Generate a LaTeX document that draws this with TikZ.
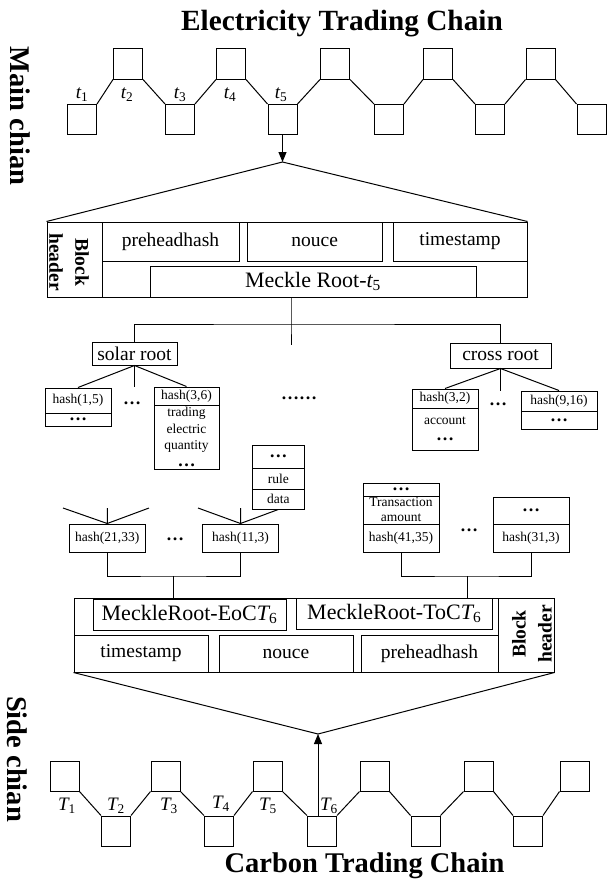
\documentclass[tikz,border=0pt]{standalone}
\usepackage{fontspec}
\setmainfont{Liberation Serif}
\usetikzlibrary{arrows.meta}
\newcommand\fs[2]{\fontsize{#1}{#2}\selectfont}
\begin{document}
\begin{tikzpicture}[x=1pt,y=-1pt,
  ln/.style={line width=1pt},
  box/.style={draw, line width=1pt, inner sep=0pt, align=center},
  cell/.style={box, font=\fs{13.5}{15}},
  big/.style={box, font=\fs{19.5}{22}},
  mr/.style={box, font=\fs{22}{24}},
  sq/.style={draw, line width=1pt, minimum width=29pt, minimum height=30pt, inner sep=0pt},
  lbl/.style={font=\fs{19}{20}\itshape, inner sep=0pt},
  dd/.style={font=\fs{18}{18}\bfseries, inner sep=0pt},
  ttl/.style={font=\fs{28.5}{30}\bfseries, inner sep=0pt},
  bh/.style={font=\fs{19.5}{26}\bfseries, inner sep=0pt, align=center},
  arr/.style={line width=1pt, -{Triangle[length=10pt,width=8pt]}}]
\useasboundingbox[fill=white] (0,0) rectangle (608,883);

% titles
\node[ttl, font=\fs{29.3}{30}\bfseries, anchor=base] (tt1) at (342,31) {Electricity Trading Chain};
\node[ttl, anchor=base] (tt2) at (364.5,872) {Carbon Trading Chain};
\node[ttl, rotate=-90] (mainl) at (20,116) {Main chian};
\node[ttl, rotate=-90] (sidel) at (17,759) {Side chian};

% main chain
\node[sq] (e1) at (82,119.5) {};
\node[sq] (e2) at (128,64) {};
\node[sq] (e3) at (180,119.5) {};
\node[sq] (e4) at (231,64) {};
\node[sq] (e5) at (282.5,119.5) {};
\node[sq] (e6) at (335,64) {};
\node[sq] (e7) at (389,119.5) {};
\node[sq] (e8) at (438,64) {};
\node[sq] (e9) at (490,119.5) {};
\node[sq] (e10) at (540.5,64) {};
\node[sq] (e11) at (591.5,119.5) {};
\draw[ln] (e1.north east) -- (e2.south west) (e2.south east) -- (e3.north west)
  (e3.north east) -- (e4.south west) (e4.south east) -- (e5.north west)
  (e5.north east) -- (e6.south west) (e6.south east) -- (e7.north west)
  (e7.north east) -- (e8.south west) (e8.south east) -- (e9.north west)
  (e9.north east) -- (e10.south west) (e10.south east) -- (e11.north west);
\node[lbl] (l1) at (82,95) {t\textsubscript{\upshape 1}};
\node[lbl] (l2) at (127,95) {t\textsubscript{\upshape 2}};
\node[lbl] (l3) at (180,95) {t\textsubscript{\upshape 3}};
\node[lbl] (l4) at (230,95) {t\textsubscript{\upshape 4}};
\node[lbl] (l5) at (281,95) {t\textsubscript{\upshape 5}};

\coordinate (apex1) at (282.5,162);
\draw[arr] (e5.south) -- (apex1);

% top block header
\node[box, minimum width=480pt, minimum height=75pt] (hdr1) at (287,259.5) {};
\draw[ln] (hdr1.north west) -- (apex1) -- (hdr1.north east);
\node[box, minimum width=55pt, minimum height=75pt] (bhb1) at (74.5,259.5) {};
\node[bh, rotate=-90] (bh1) at (69,262) {Block\\header};
\node[big, minimum width=137pt, minimum height=39pt] (ph1) at (170.5,241.5) {preheadhash};
\node[big, minimum width=134.5pt, minimum height=39pt] (no1) at (314.75,241.5) {nouce};
\node[big, minimum width=134pt, minimum height=39pt] (ts1) at (460,241.5) {timestamp};
\node[mr, minimum width=326pt, minimum height=31pt] (mr1) at (313,281.5) {Meckle Root-{\itshape t}\textsubscript{5}};

% tree
\coordinate (jn) at (291,324);
\node[big, minimum width=85pt, minimum height=23pt] (solar) at (134.5,353.5) {solar root};
\node[big, minimum width=101pt, minimum height=25pt] (cross) at (500.5,355.5) {cross root};
\draw[ln] (mr1.south -| jn) -- (jn) -- ++(0,21);
\draw[ln] (solar.north) |- (jn) -| (cross.north);

\node[cell, minimum width=66pt, minimum height=25pt] (h15a) at (78,400.5) {hash(1,5)};
\node[cell, minimum width=66pt, minimum height=13pt] (h15b) at (78,419.5) {\fs{18}{18}\bfseries …};
\node[cell, minimum width=65pt, minimum height=18pt] (h36a) at (186.5,396) {hash(3,6)};
\node[cell, minimum width=65pt, minimum height=64pt, font=\fs{13.5}{16.5}] (h36b) at (186.5,437) {trading\\electric\\quantity\\{\fs{18}{14}\bfseries …}};
\draw[ln] (h15a.north) -- (solar.south) -- (h36a.north);
\draw[ln] (solar.south) -- ++(0,21);
\node[dd] (d1) at (132,403) {…};
\node[dd] (d2) at (299,398) {……};

\node[cell, minimum width=66pt, minimum height=19pt] (h32a) at (445,398.5) {hash(3,2)};
\node[cell, minimum width=66pt, minimum height=42pt, font=\fs{13.5}{16}] (h32b) at (445,429) {account\\{\fs{18}{12}\bfseries …}};
\node[cell, minimum width=76pt, minimum height=20pt] (h916a) at (559,401) {hash(9,16)};
\node[cell, minimum width=76pt, minimum height=18pt] (h916b) at (559,420) {\fs{18}{18}\bfseries …};
\draw[ln] (h32a.north) -- (cross.south) -- (h916a.north);
\draw[ln] (cross.south) -- ++(0,22);
\node[dd] (d3) at (498,404) {…};

% rule stack
\node[cell, minimum width=51.5pt, minimum height=23pt] (rulea) at (278.25,456.5) {\fs{18}{18}\bfseries …};
\node[cell, minimum width=51.5pt, minimum height=21pt] (ruleb) at (278.25,478.5) {rule};
\node[cell, minimum width=51.5pt, minimum height=20pt] (rulec) at (278.25,499) {data};

% lower hashes
\node[cell, minimum width=76.5pt, minimum height=28pt] (h2133) at (107.25,538) {hash(21,33)};
\node[cell, minimum width=76pt, minimum height=28pt] (h113) at (240.5,538) {hash(11,3)};
\node[dd] (d4) at (175,539) {…};
\coordinate (fa1) at (63,508);
\coordinate (fa2) at (107.25,508);
\coordinate (fa3) at (149,508);
\coordinate (fb1) at (198,508);
\coordinate (fb2) at (240.5,508);
\draw[ln] (fa1) -- (h2133.north) -- (fa3) (fa2) -- (h2133.north);
\draw[ln] (fb1) -- (h113.north) -- (rulec.south) (fb2) -- (h113.north);

\node[cell, minimum width=76pt, minimum height=13pt] (tra) at (401,489.5) {\fs{18}{18}\bfseries …};
\node[cell, minimum width=76pt, minimum height=28pt, font=\fs{13.5}{15}] (trb) at (401,510) {Transaction\\amount};
\node[cell, minimum width=76pt, minimum height=28pt] (h4135) at (401,538) {hash(41,35)};
\node[dd] (d5) at (469,530) {…};
\node[cell, minimum width=76pt, minimum height=27pt] (h313a) at (531,510.5) {\fs{18}{18}\bfseries …};
\node[cell, minimum width=76pt, minimum height=28pt] (h313b) at (531,538) {hash(31,3)};

% lower block header
\node[box, minimum width=480pt, minimum height=74pt] (hdr2) at (314,635) {};
\node[mr, minimum width=193pt, minimum height=31pt] (eoc) at (189.5,614.5) {MeckleRoot-EoC{\itshape T}\textsubscript{6}};
\node[mr, minimum width=196.5pt, minimum height=31pt] (toc) at (394.25,613.5) {MeckleRoot-ToC{\itshape T}\textsubscript{6}};
\node[big, minimum width=134pt, minimum height=37pt] (ts2) at (141,653.5) {timestamp};
\node[big, minimum width=134pt, minimum height=37pt] (no2) at (286,653.5) {nouce};
\node[big, minimum width=137pt, minimum height=37pt] (ph2) at (429.5,653.5) {preheadhash};
\node[box, minimum width=56pt, minimum height=74pt] (bhb2) at (526,635) {};
\node[bh, rotate=90] (bh2) at (532,634) {Block\\header};

\coordinate (lb) at (173,576);
\coordinate (rb) at (467,576);
\draw[ln] (h2133.south) |- (lb) -| (h113.south);
\draw[ln] (lb) -- (eoc.north -| lb);
\draw[ln] (h4135.south) |- (rb) -| (h313b.south);
\draw[ln] (rb) -- (toc.north -| rb);

\coordinate (apex2) at (318,734);
\draw[ln] (hdr2.south west) -- (apex2) -- (hdr2.south east);

% side chain
\node[sq] (f1) at (64.5,776) {};
\node[sq] (f2) at (116,831) {};
\node[sq] (f3) at (165.5,776) {};
\node[sq] (f4) at (219,831) {};
\node[sq] (f5) at (267.5,776) {};
\node[sq] (f6) at (322,831) {};
\node[sq] (f7) at (374.5,776) {};
\node[sq] (f8) at (425.5,831) {};
\node[sq] (f9) at (478.5,776) {};
\node[sq] (f10) at (528,831) {};
\node[sq] (f11) at (574.5,776) {};
\draw[ln] (f1.south east) -- (f2.north west) (f2.north east) -- (f3.south west)
  (f3.south east) -- (f4.north west) (f4.north east) -- (f5.south west)
  (f5.south east) -- (f6.north west) (f6.north east) -- (f7.south west)
  (f7.south east) -- (f8.north west) (f8.north east) -- (f9.south west)
  (f9.south east) -- (f10.north west) (f10.north east) -- (f11.south west);
\draw[arr] (f6.north -| apex2) -- (apex2);
\node[lbl] (m1) at (67,806) {T\textsubscript{\upshape 1}};
\node[lbl] (m2) at (116,806) {T\textsubscript{\upshape 2}};
\node[lbl] (m3) at (169,806) {T\textsubscript{\upshape 3}};
\node[lbl] (m4) at (221,804) {T\textsubscript{\upshape 4}};
\node[lbl] (m5) at (268,806) {T\textsubscript{\upshape 5}};
\node[lbl] (m6) at (329,806) {T\textsubscript{\upshape 6}};
\end{tikzpicture}
\end{document}
